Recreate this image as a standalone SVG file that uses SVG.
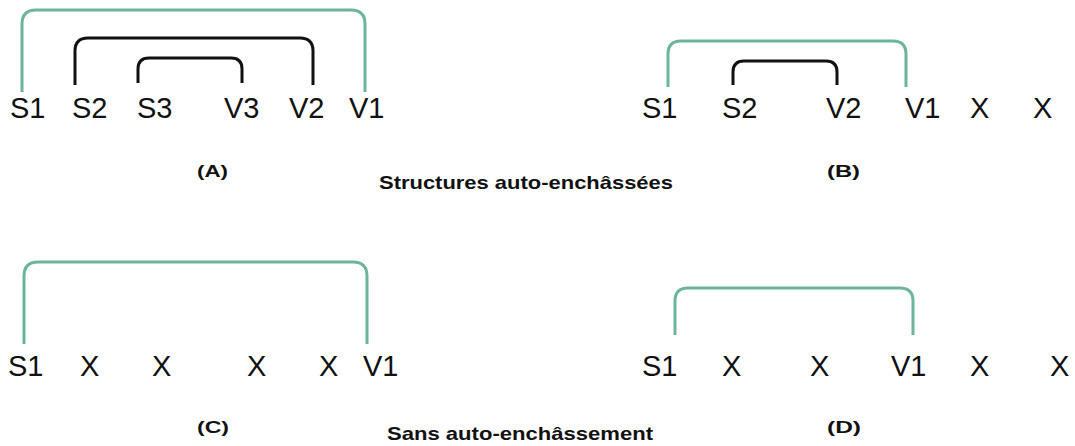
<svg xmlns="http://www.w3.org/2000/svg" width="1075" height="446" viewBox="0 0 1075 446">
<style>
.w{font-family:"Liberation Sans",Arial,sans-serif;font-size:29px;fill:#111}
.l{font-family:"Liberation Sans",Arial,sans-serif;font-size:17px;font-weight:bold;fill:#111}
.t{font-family:"Liberation Sans",Arial,sans-serif;font-size:19px;font-weight:bold;fill:#111}
.g{fill:none;stroke:#6db49c;stroke-width:3;stroke-linecap:butt}
.k{fill:none;stroke:#111;stroke-width:3;stroke-linecap:butt}
</style>
<rect width="1075" height="446" fill="#fff"/>
<g id="connectors">
<path class="g" d="M22 92 V24 Q22 10 36 10 H351 Q365 10 365 24 V92"/>
<path class="k" d="M75 85 V51 Q75 38 88 38 H300 Q313 38 313 51 V85"/>
<path class="k" d="M138 83 V69 Q138 58 149 58 H231 Q242 58 242 69 V83"/>
<path class="g" d="M668 87 V54 Q668 41 681 41 H893 Q906 41 906 54 V87"/>
<path class="k" d="M733 85 V72 Q733 61 744 61 H826 Q837 61 837 72 V85"/>
<path class="g" d="M24 344 V276 Q24 262 38 262 H353 Q367 262 367 276 V344"/>
<path class="g" d="M675 335 V301 Q675 288 688 288 H900 Q913 288 913 301 V335"/>
</g>
<g id="panelA">
<text class="w" x="10" y="118">S1</text>
<text class="w" x="72" y="118">S2</text>
<text class="w" x="137" y="118">S3</text>
<text class="w" x="224" y="118">V3</text>
<text class="w" x="289" y="118">V2</text>
<text class="w" x="349" y="118">V1</text>
<text class="l" x="197" y="177" textLength="31" lengthAdjust="spacingAndGlyphs">(A)</text>
</g>
<g id="panelB">
<text class="w" x="642" y="118">S1</text>
<text class="w" x="722" y="118">S2</text>
<text class="w" x="826" y="118">V2</text>
<text class="w" x="905" y="118">V1</text>
<text class="w" x="970" y="118">X</text>
<text class="w" x="1033" y="118">X</text>
<text class="l" x="827" y="177" textLength="33" lengthAdjust="spacingAndGlyphs">(B)</text>
</g>
<g id="panelC">
<text class="w" x="8" y="376">S1</text>
<text class="w" x="80" y="376">X</text>
<text class="w" x="152" y="376">X</text>
<text class="w" x="247" y="376">X</text>
<text class="w" x="319" y="376">X</text>
<text class="w" x="363" y="376">V1</text>
<text class="l" x="197" y="433" textLength="32" lengthAdjust="spacingAndGlyphs">(C)</text>
</g>
<g id="panelD">
<text class="w" x="642" y="376">S1</text>
<text class="w" x="722" y="376">X</text>
<text class="w" x="810" y="376">X</text>
<text class="w" x="891" y="376">V1</text>
<text class="w" x="970" y="376">X</text>
<text class="w" x="1050" y="376">X</text>
<text class="l" x="827" y="433" textLength="34" lengthAdjust="spacingAndGlyphs">(D)</text>
</g>
<g id="titles">
<text class="t" x="379" y="189" textLength="294" lengthAdjust="spacingAndGlyphs">Structures auto-enchâssées</text>
<text class="t" x="387" y="440" textLength="266" lengthAdjust="spacingAndGlyphs">Sans auto-enchâssement</text>
</g>
</svg>
